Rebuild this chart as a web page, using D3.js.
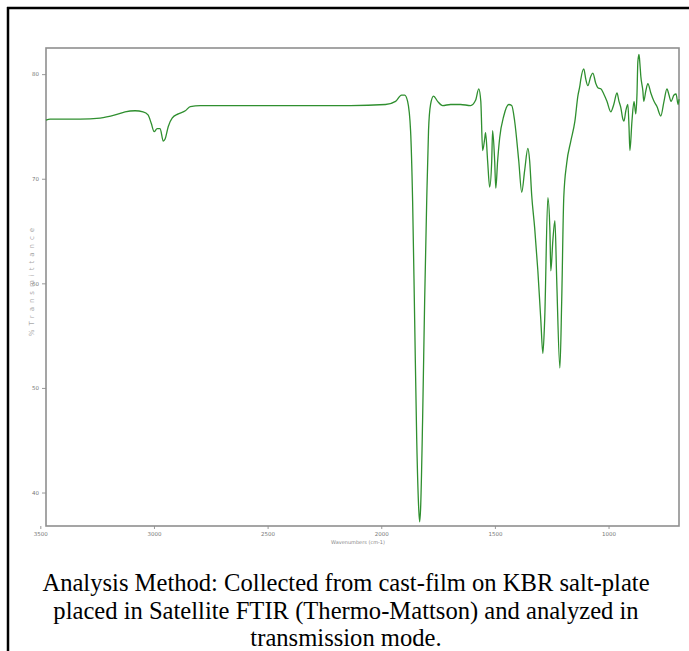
<!DOCTYPE html>
<html><head><meta charset="utf-8">
<script src="https://cdn.jsdelivr.net/npm/d3@7/dist/d3.min.js"></script>
<style>body{margin:0;background:#fff}svg{display:block}</style>
</head><body><svg id="c" width="689" height="651"></svg>
<script>
const wavenumber=[3475,3457,3413,3325,3237,3171,3127,3083,3048,3026,3012,2999,2986,2973,2959,2951,2937,2920,2893,2862,2840,2796,2708,2576,2356,2135,1981,1937,1911,1897,1884,1871,1862,1853,1844,1835,1831,1827,1818,1809,1800,1792,1783,1770,1752,1730,1695,1651,1607,1585,1571,1562,1554,1545,1541,1532,1523,1514,1510,1501,1496,1488,1479,1461,1439,1426,1413,1395,1382,1369,1355,1347,1338,1325,1311,1298,1289,1281,1267,1258,1254,1245,1236,1228,1214,1206,1197,1184,1166,1148,1135,1126,1122,1109,1100,1091,1078,1069,1056,1047,1034,1021,1007,990,977,963,954,946,937,932,924,915,910,906,897,888,880,875,871,866,862,858,849,845,836,827,814,800,787,770,756,743,734,725,712,703,694,690];
const transmittance=[75.6,75.7,75.7,75.7,75.8,76.1,76.4,76.5,76.4,76.1,75.3,74.5,74.8,74.8,73.6,73.8,75.0,75.8,76.2,76.5,76.9,77.0,77.0,77.0,77.0,77.0,77.1,77.4,78.0,78.0,77.4,74.6,67.9,56.5,45.1,38.4,37.2,38.4,47.0,58.4,67.9,74.6,77.1,77.9,77.4,77.0,77.1,77.1,77.0,77.5,78.6,77.4,72.7,73.8,74.4,71.7,69.2,71.7,74.6,71.7,69.1,71.7,73.9,76.0,77.1,77.0,75.5,71.7,68.7,70.8,72.9,71.7,68.4,65.3,61.2,56.5,53.3,56.5,68.2,65.1,61.2,64.1,66.0,60.3,51.9,58.4,68.2,71.5,73.6,75.5,77.9,78.9,79.5,80.5,79.5,78.9,79.8,80.1,79.1,78.7,78.6,78.1,77.4,76.4,77.1,78.2,77.4,76.8,75.7,75.5,76.5,77.1,75.0,72.7,75.5,77.4,76.2,78.0,81.2,81.9,81.0,79.8,78.4,77.4,78.4,79.1,78.2,77.4,76.9,76.0,77.4,78.6,78.0,77.4,78.0,78.1,77.1,77.6];
const xTicks=[3500,3000,2500,2000,1500,1000];
const yTicks=[80,70,60,50,40];
const xTitle="Wavenumbers (cm-1)";
const yTitle="%Transmittance";
const captionLines=["Analysis Method: Collected from cast-film on KBR salt-plate","placed in Satellite FTIR (Thermo-Mattson) and analyzed in","transmission mode."];

const svg=d3.select("#c");
const L=46,R=679,T=48,B=526;
const x=d3.scaleLinear().domain([3475,690]).range([L,R]);
const y=d3.scaleLinear().domain([82.5,36.8]).range([T,B]);

// page borders
svg.append("line").attr("x1",7).attr("x2",689).attr("y1",8).attr("y2",8).attr("stroke","#000").attr("stroke-width",2.5);
svg.append("line").attr("x1",8).attr("x2",8).attr("y1",7).attr("y2",651).attr("stroke","#000").attr("stroke-width",2.5);

// axes
const xa=svg.append("g").attr("transform",`translate(0,${B})`)
  .call(d3.axisBottom(x).tickValues(xTicks).tickSize(3).tickFormat(d3.format("d")));
const ya=svg.append("g").attr("transform",`translate(${L},0)`)
  .call(d3.axisLeft(y).tickValues(yTicks).tickSize(4).tickFormat(d3.format("d")));
[xa,ya].forEach(g=>{
  g.select(".domain").remove();
  g.selectAll("line").attr("stroke","#999");
  g.selectAll("text").attr("font-family","DejaVu Sans").attr("font-size",5.5).attr("fill","#777");
});
xa.selectAll("text").attr("dy","0.8em");

svg.append("rect").attr("x",L).attr("y",T).attr("width",R-L).attr("height",B-T)
  .attr("fill","none").attr("stroke","#8f8f8f").attr("stroke-width",1.6);

// spectrum
const pts=wavenumber.map((w,i)=>[w,transmittance[i]]);
svg.append("path").datum(pts)
  .attr("d",d3.line().x(d=>x(d[0])).y(d=>y(d[1])).curve(d3.curveMonotoneX))
  .attr("fill","none").attr("stroke","#2f8f2f").attr("stroke-width",1.3).attr("stroke-linejoin","round");

svg.append("text").attr("x",358).attr("y",544).attr("text-anchor","middle")
  .attr("font-family","DejaVu Sans").attr("font-size",5).attr("fill","#888").text(xTitle);
svg.append("text").attr("transform","translate(34,280) rotate(-90)").attr("text-anchor","middle")
  .attr("font-family","DejaVu Sans").attr("font-size",7).attr("letter-spacing",4).attr("fill","#aaa").text(yTitle);

svg.append("g").selectAll("text").data(captionLines).join("text")
  .attr("x",346).attr("y",(d,i)=>591+i*27.5).attr("text-anchor","middle")
  .attr("font-family","Liberation Serif").attr("font-size",24.6).attr("fill","#000").text(d=>d);
</script></body></html>
